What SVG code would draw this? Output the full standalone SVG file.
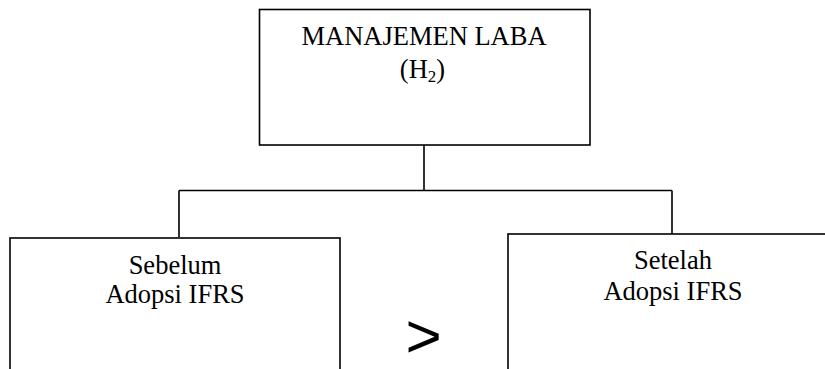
<svg xmlns="http://www.w3.org/2000/svg" width="825" height="369" viewBox="0 0 825 369">
<style>
.box{fill:#fff;stroke:#000;stroke-width:1.6}
.conn{fill:none;stroke:#000;stroke-width:1.6}
.t{font-family:"Liberation Serif","Times New Roman",serif;font-size:26.5px;fill:#000;text-anchor:middle}
.g{font-family:"Liberation Sans",Arial,sans-serif;font-size:62px;fill:#000}
</style>
<rect width="825" height="369" fill="#fff"/>
<g id="connectors">
<path class="conn" d="M424,145 V190.5 M179,190.5 H672 M179,190.5 V237 M672,190.5 V234"/>
</g>
<g id="node-manajemen-laba">
<rect class="box" x="259.5" y="9.5" width="330.5" height="135.5"/>
<text class="t" x="424" y="45">MANAJEMEN LABA</text>
<text class="t" x="422.5" y="78">(H<tspan font-size="17" dy="4">2</tspan><tspan dy="-4">)</tspan></text>
</g>
<g id="node-sebelum">
<rect class="box" x="10" y="238" width="330" height="140"/>
<text class="t" x="175" y="274">Sebelum</text>
<text class="t" x="175" y="303">Adopsi IFRS</text>
</g>
<g id="node-setelah">
<rect class="box" x="508" y="234" width="330" height="144"/>
<text class="t" x="673" y="269">Setelah</text>
<text class="t" x="673" y="300">Adopsi IFRS</text>
</g>
<text class="g" x="405.5" y="357">&gt;</text>
</svg>
